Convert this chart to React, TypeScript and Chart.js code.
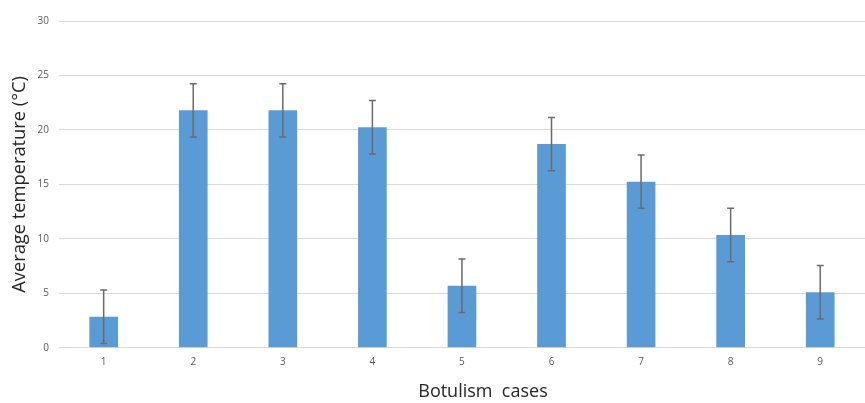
import React, { useEffect, useRef } from "react";
import { Chart, registerables } from "chart.js";

Chart.register(...registerables);

const categories = ["1", "2", "3", "4", "5", "6", "7", "8", "9"];
const avgTemperature = [2.85, 21.8, 21.8, 20.25, 5.7, 18.7, 15.25, 10.35, 5.1];
const errorMargin = [2.45, 2.45, 2.45, 2.45, 2.45, 2.45, 2.45, 2.45, 2.45];
const yTicks = [0, 5, 10, 15, 20, 25, 30];

const errorBarPlugin = {
  id: "errorBars",
  afterDatasetsDraw(chart: any) {
    const { ctx } = chart;
    const meta = chart.getDatasetMeta(0);
    const yScale = chart.scales.y;
    ctx.save();
    ctx.strokeStyle = "#6b6b6b";
    ctx.lineWidth = 1.5;
    meta.data.forEach((bar: any, i: number) => {
      const v = avgTemperature[i];
      const e = errorMargin[i];
      const x = bar.x;
      const yTop = yScale.getPixelForValue(v + e);
      const yBot = yScale.getPixelForValue(v - e);
      const cap = 3.5;
      ctx.beginPath();
      ctx.moveTo(x, yTop);
      ctx.lineTo(x, yBot);
      ctx.moveTo(x - cap, yTop);
      ctx.lineTo(x + cap, yTop);
      ctx.moveTo(x - cap, yBot);
      ctx.lineTo(x + cap, yBot);
      ctx.stroke();
    });
    ctx.restore();
  },
};

export default function App() {
  const ref = useRef<HTMLCanvasElement | null>(null);
  useEffect(() => {
    document.body.style.margin = "0";
    if (!ref.current) return;
    const chart = new Chart(ref.current, {
      type: "bar",
      data: {
        labels: categories,
        datasets: [
          {
            data: avgTemperature,
            backgroundColor: "#5B9BD5",
            borderWidth: 0,
            barPercentage: 0.32,
            categoryPercentage: 1,
          },
        ],
      },
      options: {
        animation: false,
        responsive: false,
        maintainAspectRatio: false,
        layout: { padding: { top: 21, right: 0, bottom: 0, left: 0 } },
        plugins: {
          legend: { display: false },
          tooltip: { enabled: false },
        },
        scales: {
          x: {
            grid: { display: false, drawTicks: false },
            border: { display: false },
            ticks: {
              padding: 8,
              color: "#595959",
              font: { family: "Open Sans", size: 10 },
            },
            title: {
              display: true,
              text: "\u00a0\u00a0\u00a0\u00a0\u00a0\u00a0\u00a0\u00a0\u00a0Botulism  cases",
              color: "#262626",
              font: { family: "Open Sans", size: 18 },
              padding: { top: 5.6, bottom: 0 },
            },
          },
          y: {
            min: 0,
            max: 30,
            afterBuildTicks: (axis: any) => {
              axis.ticks = yTicks.map((v) => ({ value: v }));
            },
            grid: { color: "#d9d9d9", lineWidth: 1, drawTicks: false },
            border: { display: false },
            ticks: {
              padding: 10,
              color: "#595959",
              font: { family: "Open Sans", size: 10 },
            },
            title: {
              display: true,
              text: "Average temperature (°C)",
              color: "#262626",
              font: { family: "Open Sans", size: 18.3 },
              padding: { top: 9, bottom: -3.5 },
            },
          },
        },
      },
      plugins: [errorBarPlugin],
    });
    return () => chart.destroy();
  }, []);
  return (
    <div style={{ width: 865, height: 403 }}>
      <canvas ref={ref} width={865} height={403} style={{ display: "block" }} />
    </div>
  );
}
